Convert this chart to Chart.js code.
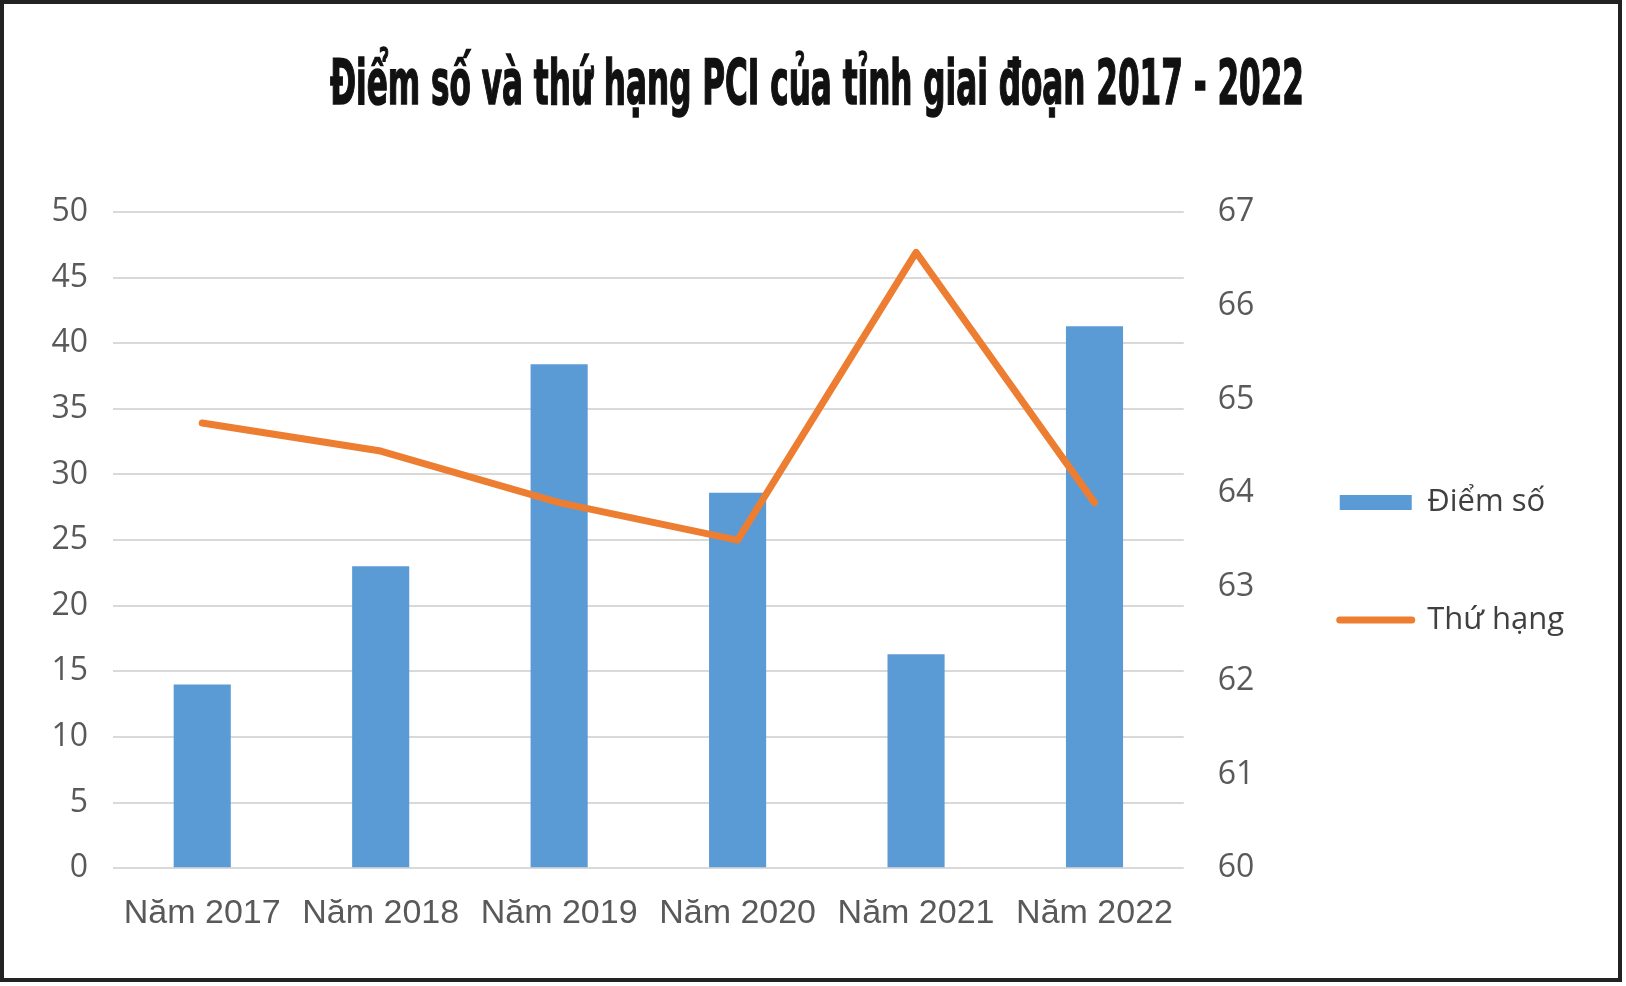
<!DOCTYPE html>
<html>
<head>
<meta charset="utf-8">
<script src="https://cdn.jsdelivr.net/npm/chart.js@4/dist/chart.umd.min.js"></script>
<style>
  html, body { margin: 0; padding: 0; background: #ffffff; }
  #wrap { position: relative; width: 1626px; height: 986px; overflow: hidden; background: #fff; }
  #frame { position: absolute; left: 0; top: 0; width: 1622px; height: 982px; box-sizing: border-box; border: 4px solid #222222; pointer-events: none; }
  #ttext { position: absolute; left: 330px; top: 51px; line-height: 1; white-space: nowrap; font-family: "DejaVu Sans Condensed", "Liberation Sans Narrow", sans-serif; font-weight: bold; font-size: 63px; color: #111111; -webkit-text-stroke: 1.5px #111111; transform-origin: 0 0; }
  canvas { position: absolute; left: 0; top: 0; }
</style>
</head>
<body>
<div id="wrap">
  <canvas id="c" width="1626" height="986"></canvas>
  <div id="ttext">Điểm số và thứ hạng PCI của tỉnh giai đoạn 2017 - 2022</div>
  <div id="frame"></div>
</div>
<script>
// ---- data ----
const categories = ['Năm 2017', 'Năm 2018', 'Năm 2019', 'Năm 2020', 'Năm 2021', 'Năm 2022'];
const diemSo = [14.0, 23.0, 38.4, 28.6, 16.3, 41.3];
const thuHang = [64.75, 64.45, 63.9, 63.5, 66.57, 63.9];
const seriesNames = ['Điểm số', 'Thứ hạng'];
const leftTicks = { min: 0, max: 50, step: 5 };
const rightTicks = { min: 60, max: 67, step: 1 };

// title fit
const t = document.getElementById('ttext');
const w = t.getBoundingClientRect().width;
t.style.transform = 'scaleX(' + (974 / w) + ')';

const BLUE = '#5B9BD5';
const ORANGE = '#ED7D31';

new Chart(document.getElementById('c'), {
  data: {
    labels: categories,
    datasets: [
      {
        type: 'bar', label: seriesNames[0], data: diemSo, yAxisID: 'y',
        backgroundColor: BLUE, borderWidth: 0, barPercentage: 0.32, categoryPercentage: 1.0, order: 1
      },
      {
        type: 'line', label: seriesNames[1], data: thuHang, yAxisID: 'y2',
        borderColor: ORANGE, backgroundColor: ORANGE, borderWidth: 7, pointRadius: 0,
        borderCapStyle: 'round', borderJoinStyle: 'round', tension: 0, order: 0
      }
    ]
  },
  options: {
    responsive: false,
    animation: false,
    devicePixelRatio: 1,
    layout: { padding: { left: 0, right: 52, top: 212, bottom: 27 } },
    plugins: {
      title: { display: false },
      tooltip: { enabled: false },
      legend: {
        display: true,
        position: 'right',
        align: 'start',
        maxWidth: 360,
        title: { display: true, text: '', font: { size: 10, lineHeight: 1 }, padding: { top: 178.5, bottom: 0 } },
        labels: {
          usePointStyle: true,
          pointStyleWidth: 72,
          boxHeight: 15,
          padding: 86.5,
          color: '#404040',
          font: { family: '"Open Sans", sans-serif', size: 31 },
          generateLabels: (chart) => chart.data.datasets.map((ds, i) => ({
            text: ds.label,
            datasetIndex: i,
            hidden: false,
            fillStyle: ds.type === 'bar' ? ds.backgroundColor : ds.borderColor,
            strokeStyle: ds.type === 'bar' ? ds.backgroundColor : ds.borderColor,
            lineWidth: ds.type === 'bar' ? 0 : 7,
            lineCap: 'round',
            pointStyle: ds.type === 'bar' ? 'rect' : 'line',
            fontColor: '#404040'
          }))
        }
      }
    },
    scales: {
      x: {
        grid: { display: false, drawTicks: false },
        border: { display: false },
        ticks: { color: '#595959', padding: 25, maxRotation: 0, autoSkip: false, font: { family: '"Liberation Sans", sans-serif', size: 34 } }
      },
      y: {
        position: 'left',
        min: leftTicks.min, max: leftTicks.max,
        afterFit: (s) => { s.width = 113; },
        ticks: { stepSize: leftTicks.step, color: '#595959', padding: 25, font: { family: '"Open Sans", sans-serif', size: 32 } },
        grid: { color: '#D9D9D9', lineWidth: 2, drawTicks: false },
        border: { display: false }
      },
      y2: {
        position: 'right',
        min: rightTicks.min, max: rightTicks.max,
        afterFit: (s) => { s.width = 69.5; },
        ticks: { stepSize: rightTicks.step, color: '#595959', padding: 34, font: { family: '"Open Sans", sans-serif', size: 32 } },
        grid: { display: false, drawTicks: false },
        border: { display: false }
      }
    }
  }
});
</script>
</body>
</html>
